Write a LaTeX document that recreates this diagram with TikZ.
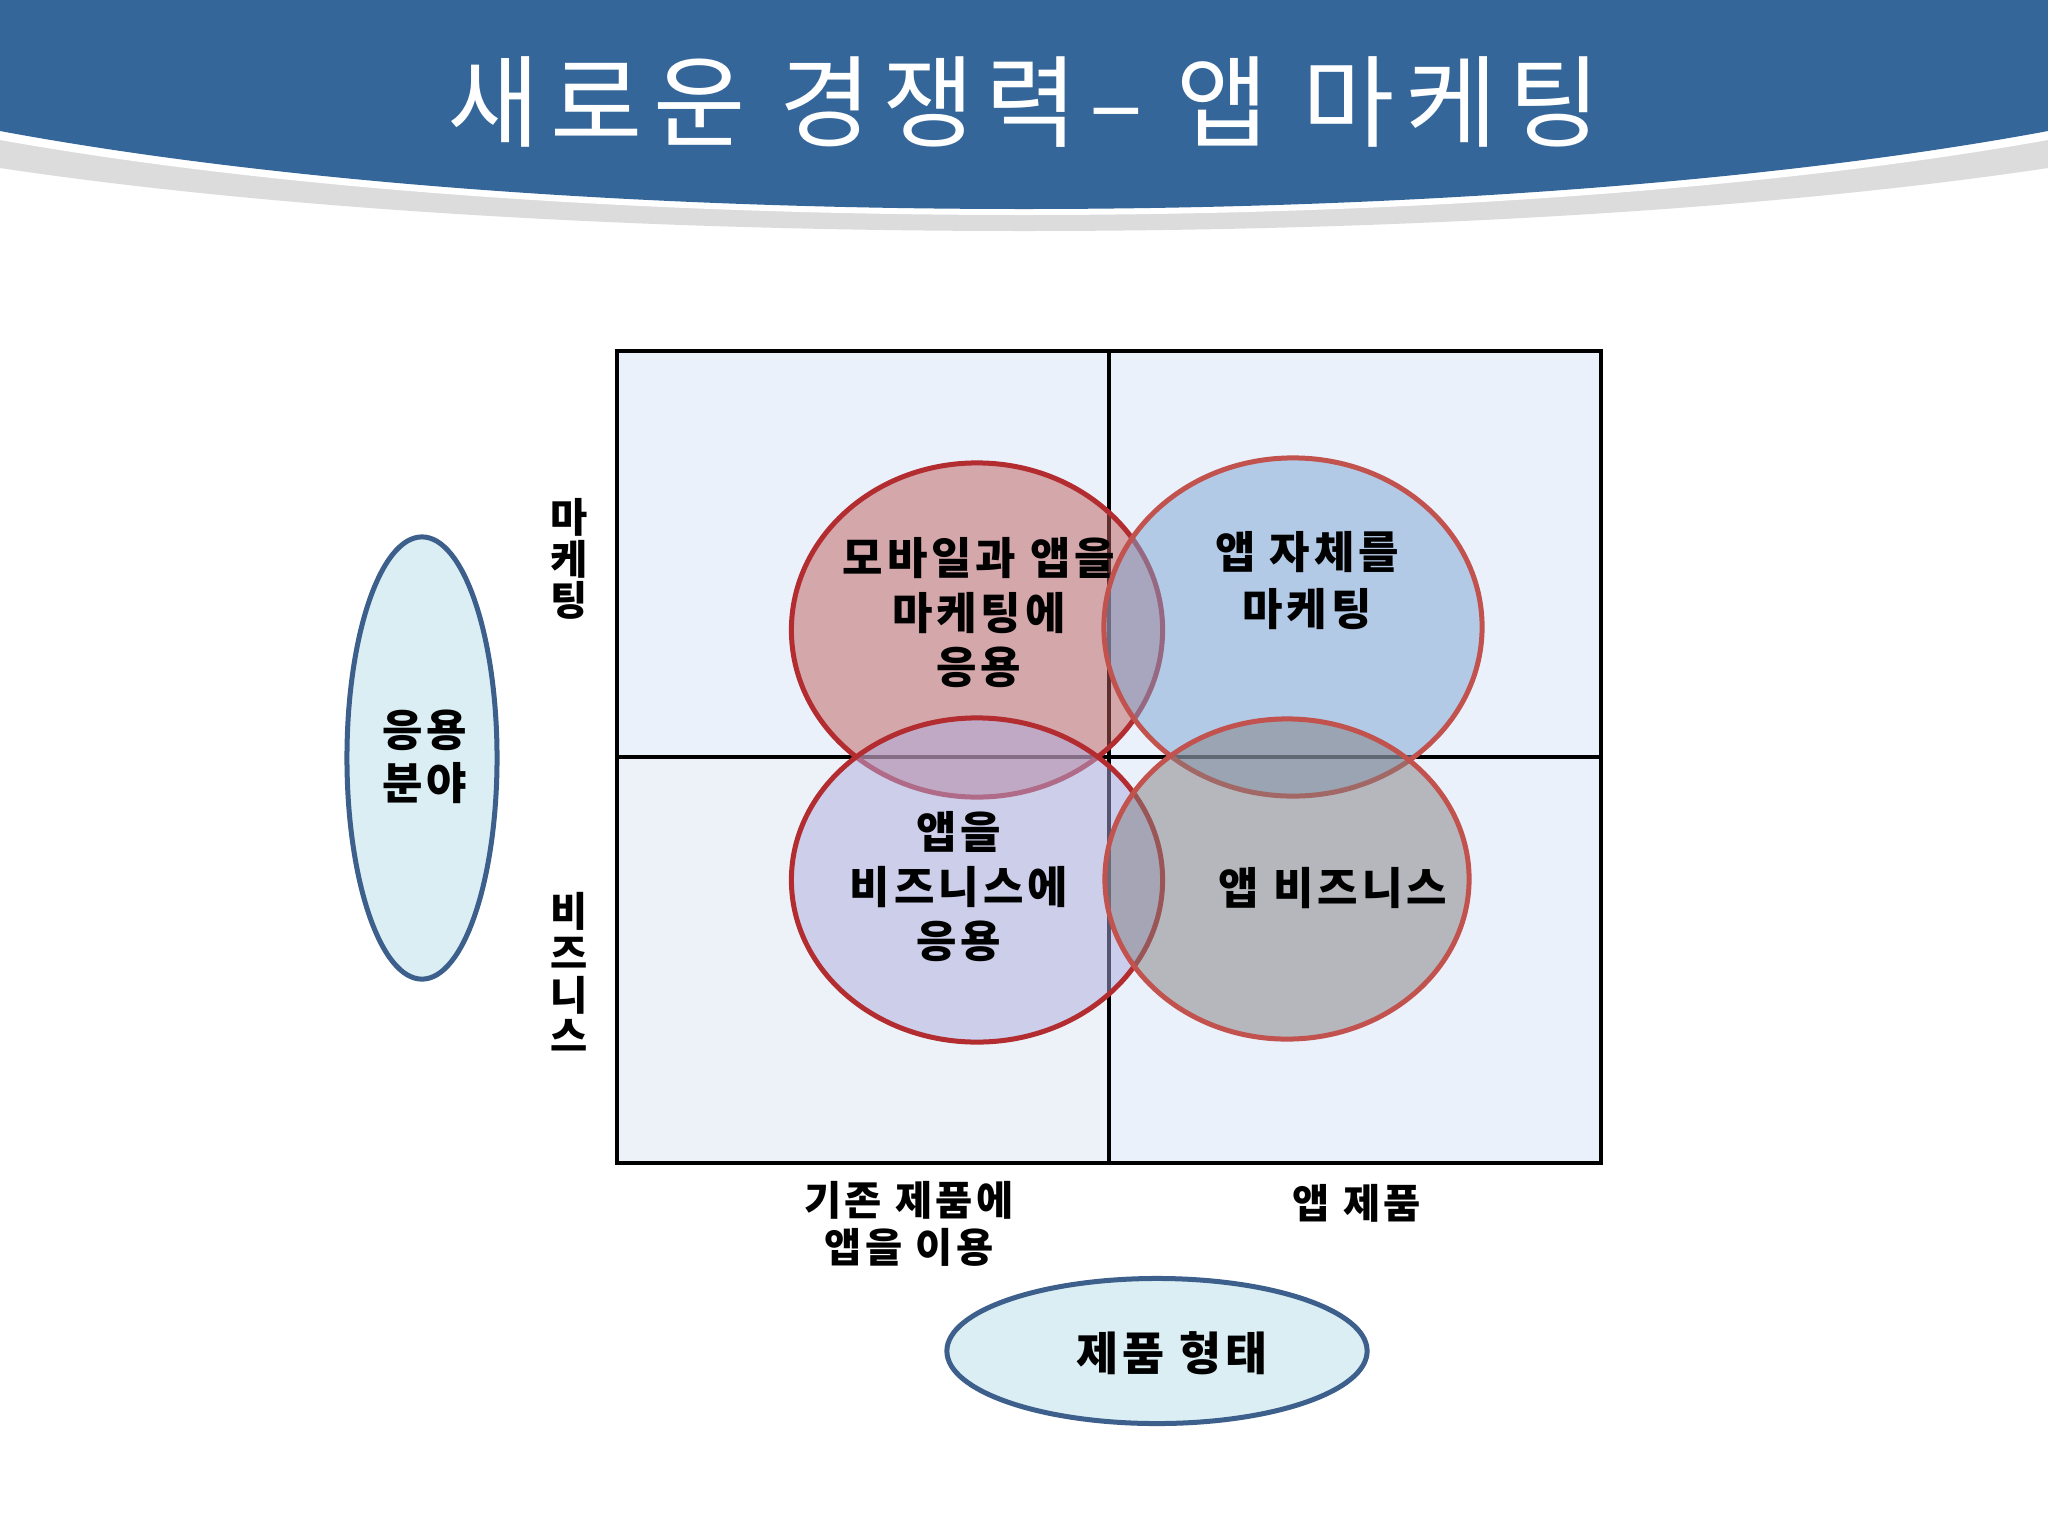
\documentclass[tikz,border=0pt]{standalone}
\usepackage{fontspec}
\setmainfont[LetterSpace=9]{Noto Sans CJK KR}
\usetikzlibrary{shapes.geometric}
\definecolor{hdrblue}{RGB}{52,102,153}
\definecolor{shadowgray}{RGB}{220,220,220}
\definecolor{cellbg}{RGB}{234,241,250}
\definecolor{cellbgtwo}{RGB}{236,242,247}
\definecolor{pinkf}{RGB}{191,95,93}
\definecolor{bluef}{RGB}{125,165,211}
\definecolor{lavf}{RGB}{173,171,223}
\definecolor{grayf}{RGB}{131,127,127}
\definecolor{darkred}{RGB}{178,44,48}
\definecolor{midred}{RGB}{194,82,78}
\definecolor{axisfill}{RGB}{218,238,243}
\definecolor{axisline}{RGB}{60,95,140}
\begin{document}
\begin{tikzpicture}[x=0.01cm,y=-0.01cm,
  venn/.style={ellipse, inner sep=0pt, line width=0.05cm, fill opacity=0.5},
  axisell/.style={ellipse, inner sep=0pt, draw=axisline, fill=axisfill, line width=0.05cm},
  lbl/.style={align=center, inner sep=0pt, font=\bfseries\fontsize{12.5}{15.5}\selectfont},
  vlbl/.style={align=center, inner sep=0pt, font=\bfseries\fontsize{11.5}{11.9}\selectfont},
  blbl/.style={align=center, inner sep=0pt, font=\bfseries\fontsize{11.5}{13.4}\selectfont}]
\useasboundingbox (0,0) rectangle (2048,1536);
\fill[white] (0,0) rectangle (2048,1536);
% header
\fill[shadowgray] (0,0) -- (0,168) .. controls (560,252) and (1488,252) .. (2048,168) -- (2048,0) -- cycle;
\fill[white] (0,0) -- (0,140) .. controls (560,240) and (1488,240) .. (2048,140) -- (2048,0) -- cycle;
\fill[hdrblue] (0,0) -- (0,131) .. controls (560,235) and (1488,235) .. (2048,131) -- (2048,0) -- cycle;
\node[text=white, inner sep=0pt, font=\fontsize{28.5}{30}\selectfont\addfontfeature{LetterSpace=11}] (title) at (1024,102) {새로운 경쟁력– 앱 마케팅};
% grid
\node[inner sep=0pt, fill=cellbg, minimum width=9.82cm, minimum height=8.10cm] (grid) at (1109,757) {};
\fill[cellbgtwo] (grid.west) rectangle (grid.south);
\draw[line width=0.035cm] (grid.north) -- (grid.south);
\draw[line width=0.035cm] (grid.west) -- (grid.east);
\draw[line width=0.045cm] (grid.north west) rectangle (grid.south east);
% venn ellipses
\node[venn, draw=darkred, fill=pinkf, minimum width=3.71cm, minimum height=3.34cm] (mobile) at (977,630) {};
\node[venn, draw=midred, fill=bluef, minimum width=3.78cm, minimum height=3.38cm] (appself) at (1293,627) {};
\node[venn, draw=darkred, fill=lavf, minimum width=3.71cm, minimum height=3.24cm] (bizapp) at (977,880) {};
\node[venn, draw=midred, fill=grayf, minimum width=3.64cm, minimum height=3.20cm] (appbiz) at (1287,879) {};
\node[lbl] (t1) at (979,613) {모바일과 앱을\\마케팅에\\응용};
\node[lbl, font=\bfseries\fontsize{12.5}{16.2}\selectfont] (t2) at (1307,581) {앱 자체를\\마케팅};
\node[lbl] (t3) at (959,887) {앱을\\비즈니스에\\응용};
\node[lbl] (t4) at (1333,888) {앱 비즈니스};
% axis ellipses
\node[axisell, minimum width=1.50cm, minimum height=4.42cm] (field) at (422,758) {};
\node[lbl, font=\bfseries\fontsize{12.5}{15}\selectfont] (fieldt) at (425,757) {응용\\분야};
\node[axisell, minimum width=4.20cm, minimum height=1.45cm] (form) at (1157,1351) {};
\node[lbl, font=\bfseries\fontsize{13}{15}\selectfont] (formt) at (1172,1353) {제품 형태};
% axis labels
\node[vlbl] (mk) at (569,559) {마\\케\\팅};
\node[vlbl] (bz) at (569,972) {비\\즈\\니\\스};
\node[blbl] (old) at (909,1224) {기존 제품에\\앱을 이용};
\node[blbl] (appprod) at (1357,1203) {앱 제품};
\end{tikzpicture}
\end{document}
